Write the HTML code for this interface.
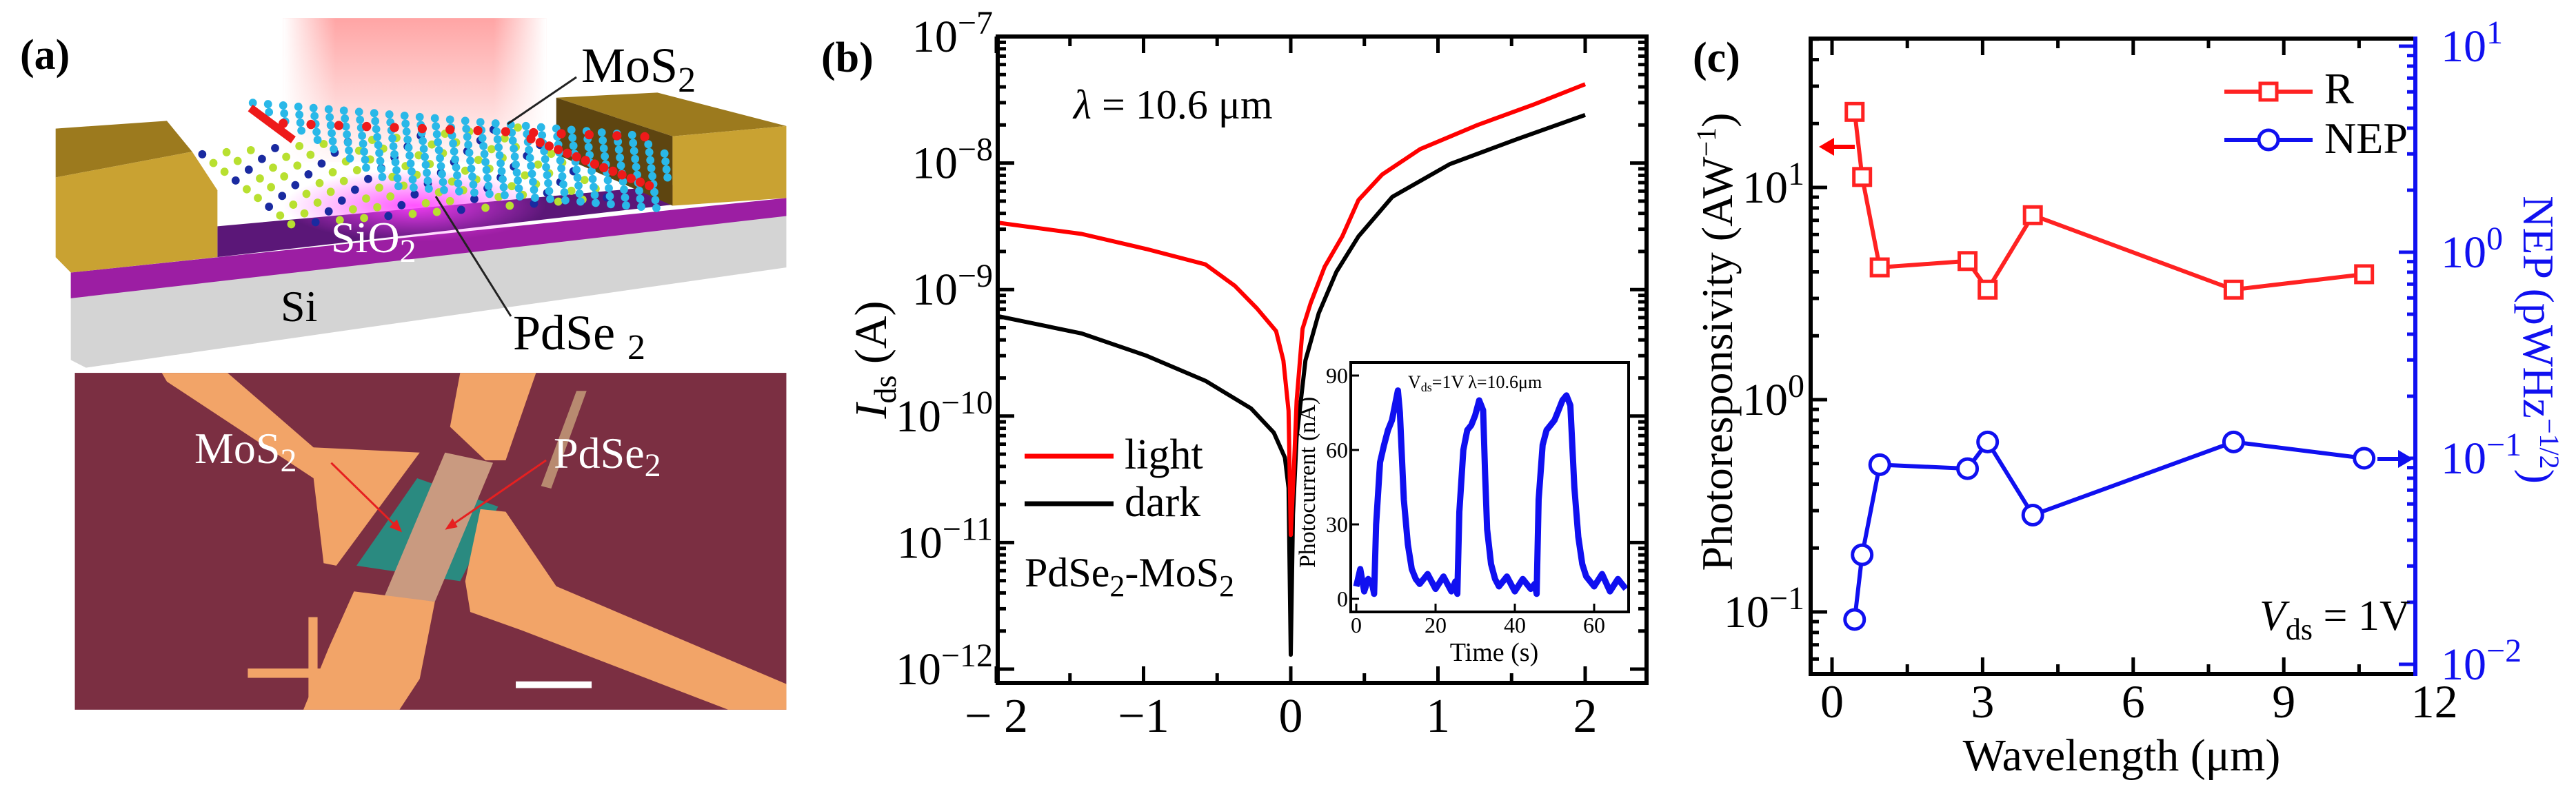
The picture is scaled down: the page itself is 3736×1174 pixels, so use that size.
<!DOCTYPE html>
<html><head><meta charset="utf-8"><style>
html,body{margin:0;padding:0;background:#fff;}
svg{display:block;}
svg text, svg tspan{font-family:"Liberation Serif","DejaVu Serif","Noto Serif CJK SC","Times New Roman",serif !important;}
</style></head><body>
<svg id="fig" xmlns="http://www.w3.org/2000/svg" width="3736" height="1174" viewBox="0 0 3736 1174">
<defs>
<linearGradient id="glow" x1="0" y1="0" x2="0" y2="1"><stop offset="0" stop-color="#ff9a9a" stop-opacity="0.9"/><stop offset="1" stop-color="#ff9a9a" stop-opacity="0.05"/></linearGradient>
<linearGradient id="glowH" x1="0" y1="0" x2="1" y2="0"><stop offset="0" stop-color="#fff" stop-opacity="1"/><stop offset="0.2" stop-color="#fff" stop-opacity="0"/><stop offset="0.8" stop-color="#fff" stop-opacity="0"/><stop offset="1" stop-color="#fff" stop-opacity="1"/></linearGradient>
<radialGradient id="mag" cx="0.5" cy="0.5" r="0.5"><stop offset="0" stop-color="#ff40ff" stop-opacity="0.9"/><stop offset="1" stop-color="#ff40ff" stop-opacity="0"/></radialGradient>
</defs>

<g id="panelA">
 <g transform="scale(0.7334,0.7463)">
  <rect x="560" y="35" width="520" height="280" fill="url(#glow)"/>
  <rect x="560" y="35" width="520" height="280" fill="url(#glowH)"/>
  <polygon points="140,530 1555,390 1555,520 170,715 140,700" fill="#d4d4d4"/>
  <polygon points="140,530 1555,385 1555,420 140,580" fill="#9c1ea3"/>
  <polygon points="430,440 1330,360 1330,398 430,500" fill="#5b1778"/>
  <ellipse cx="820" cy="400" rx="260" ry="70" fill="url(#mag)"/>
  <polygon points="110,250 330,235 380,295 110,345" fill="#9c7a1e"/>
  <polygon points="110,345 380,295 430,370 430,500 140,530 110,500" fill="#c9a232"/>
  <polygon points="1100,190 1300,180 1555,245 1330,265" fill="#9c7a1e"/>
  <polygon points="1100,190 1330,265 1330,400 1100,300" fill="#5e4510"/>
  <polygon points="1330,265 1555,245 1555,385 1330,400" fill="#c9a232"/>
  <g id="lattice"></g>
 </g>
 <text x="29" y="100" font-size="62" font-weight="bold">(a)</text>
 <text x="843" y="119" font-size="72">MoS<tspan dy="14" font-size="52">2</tspan></text>
 <text x="480" y="366" font-size="64" fill="#fff">SiO<tspan dy="14" font-size="48">2</tspan></text>
 <text x="407" y="466" font-size="64">Si</text>
 <text x="744" y="507" font-size="72">PdSe <tspan dy="14" font-size="52">2</tspan></text>
 <line x1="836" y1="112" x2="736" y2="180" stroke="#222" stroke-width="3"/>
 <line x1="741" y1="459" x2="632" y2="285" stroke="#222" stroke-width="3"/>
 <g transform="scale(0.7334,0.7463)">
  <rect x="148" y="725" width="1407" height="655" fill="#7b2f42"/>
  <polygon points="320,725 450,725 620,870 830,880 740,1000 665,1100 640,1095 620,930 330,742" fill="#f2a468"/>
  <polygon points="910,725 1060,725 1000,895 960,895 890,830" fill="#f2a468"/>
  <polygon points="1140,760 1160,760 1090,950 1070,945" fill="#b88a70"/>
  <polygon points="825,930 985,985 910,1130 705,1100" fill="#2a8a80"/>
  <polygon points="950,990 1000,995 1100,1140 1555,1330 1555,1380 1440,1380 1030,1225 930,1190 920,1130" fill="#f2a468"/>
  <polygon points="880,880 975,900 860,1170 760,1160" fill="#c99a80"/>
  <polygon points="700,1150 860,1170 830,1320 790,1380 600,1380 650,1260" fill="#f2a468"/>
  <rect x="490" y="1300" width="150" height="18" fill="#f2a468"/>
  <rect x="610" y="1200" width="18" height="160" fill="#f2a468"/>
  <rect x="1020" y="1325" width="150" height="13" fill="#fff"/>
  <line x1="655" y1="900" x2="785" y2="1025" stroke="#e62020" stroke-width="4"/>
  <polygon points="795,1035 770,1025 785,1010" fill="#e62020"/>
  <line x1="1080" y1="895" x2="895" y2="1020" stroke="#e62020" stroke-width="4"/>
  <polygon points="880,1030 895,1008 905,1025" fill="#e62020"/>
 </g>
 <text x="282" y="672" font-size="64" fill="#fff">MoS<tspan dy="12" font-size="48">2</tspan></text>
 <text x="803" y="679" font-size="64" fill="#fff">PdSe<tspan dy="12" font-size="48">2</tspan></text>
</g>

<g id="panelB">
 <text x="1191" y="104" font-size="62" font-weight="bold">(b)</text>
 <g id="bAxes"></g>
 <g id="bLines"></g>
 <rect x="1447" y="53" width="941" height="938" fill="none" stroke="#000" stroke-width="6"/>
 <text x="1557" y="172" font-size="60"><tspan font-style="italic">λ</tspan> = 10.6 μm</text>
 <text transform="translate(1285,522) rotate(-90)" text-anchor="middle" font-size="66"><tspan font-style="italic">I</tspan><tspan dy="14" font-size="46">ds</tspan><tspan dy="-14"> (A)</tspan></text>
 <line x1="1486" y1="662" x2="1615" y2="662" stroke="#f00" stroke-width="7"/>
 <text x="1631" y="680" font-size="62">light</text>
 <line x1="1486" y1="731" x2="1615" y2="731" stroke="#000" stroke-width="7"/>
 <text x="1631" y="749" font-size="62">dark</text>
 <text x="1486" y="851" font-size="60">PdSe<tspan dy="14" font-size="44">2</tspan><tspan dy="-14">-MoS</tspan><tspan dy="14" font-size="44">2</tspan></text>
 <g id="inset">
  <rect x="1959" y="526" width="403" height="362" fill="#fff"/>
  <g id="insetAxes"></g>
  <path id="insetLine" fill="none" stroke="#1010f0" stroke-width="9" stroke-linejoin="round"/>
  <rect x="1959" y="526" width="403" height="362" fill="none" stroke="#000" stroke-width="4"/>
  <text x="2042" y="563" font-size="26">V<tspan dy="5" font-size="18">ds</tspan><tspan dy="-5">=1V  λ=10.6μm</tspan></text>
  <text transform="translate(1907,700) rotate(-90)" text-anchor="middle" font-size="34">Photocurrent (nA)</text>
  <text x="2167" y="959" text-anchor="middle" font-size="38">Time (s)</text>
 </g>
</g>

<g id="panelC">
 <text x="2455" y="104" font-size="62" font-weight="bold">(c)</text>
 <g id="cAxes"></g>
 <g id="cLines"></g>
 <line x1="2626" y1="56" x2="3503" y2="56" stroke="#000" stroke-width="6"/>
 <line x1="2626" y1="978" x2="3503" y2="978" stroke="#000" stroke-width="6"/>
 <line x1="2626" y1="53" x2="2626" y2="981" stroke="#000" stroke-width="6"/>
 <line x1="3503" y1="53" x2="3503" y2="981" stroke="#1010f0" stroke-width="6"/>
 <line x1="3226" y1="133" x2="3354" y2="133" stroke="#f22" stroke-width="6"/>
 <rect x="3278" y="121" width="24" height="24" fill="#fff" stroke="#f22" stroke-width="5"/>
 <text x="3371" y="150" font-size="64">R</text>
 <line x1="3226" y1="203" x2="3354" y2="203" stroke="#1010f0" stroke-width="6"/>
 <circle cx="3290" cy="203" r="14" fill="#fff" stroke="#1010f0" stroke-width="5"/>
 <text x="3371" y="222" font-size="64">NEP</text>
 <text x="3277" y="914" font-size="62"><tspan font-style="italic">V</tspan><tspan dy="14" font-size="44">ds</tspan><tspan dy="-14"> = 1V</tspan></text>
 <text transform="translate(2512,496) rotate(-90)" text-anchor="middle" font-size="64">Photoresponsivity (AW<tspan dy="-24" font-size="40">−1</tspan><tspan dy="24">)</tspan></text>
 <text transform="translate(3660,493) rotate(90)" text-anchor="middle" font-size="64" fill="#1010f0">NEP (pWHz<tspan dy="-24" font-size="40">−1/2</tspan><tspan dy="24">)</tspan></text>
 <text x="3077" y="1118" text-anchor="middle" font-size="66">Wavelength (μm)</text>
 <line x1="2690" y1="213" x2="2655" y2="213" stroke="#f00" stroke-width="6"/>
 <polygon points="2638,213 2660,200 2660,226" fill="#f00"/>
 <line x1="3448" y1="666" x2="3485" y2="666" stroke="#1010f0" stroke-width="6"/>
 <polygon points="3500,666 3478,653 3478,679" fill="#1010f0"/>
</g>
</svg>
<script>
const lightV = [-2.0,-1.42,-0.98,-0.58,-0.38,-0.23,-0.10,-0.05,-0.015,0.0,0.023,0.04,0.08,0.135,0.23,0.35,0.46,0.62,0.88,1.27,1.65,2.0];
const lightI = [3.39e-9,2.75e-9,2.09e-9,1.58e-9,1.07e-9,7.1e-10,4.7e-10,2.75e-10,1.1e-10,1.15e-11,4.3e-11,1.32e-10,4.9e-10,7.8e-10,1.51e-9,2.63e-9,5.1e-9,8.1e-9,1.29e-8,2.0e-8,2.9e-8,4.2e-8];
const darkV = [-2.0,-1.42,-0.98,-0.58,-0.27,-0.115,-0.04,-0.015,0.0,0.015,0.04,0.10,0.19,0.31,0.46,0.69,1.08,1.54,2.0];
const darkI = [6.2e-10,4.5e-10,3.0e-10,1.9e-10,1.15e-10,7.4e-11,4.7e-11,2.7e-11,1.3e-12,1.66e-11,6.8e-11,2.75e-10,6.5e-10,1.38e-9,2.63e-9,5.4e-9,9.8e-9,1.55e-8,2.4e-8];
const bXTicks = [-2,-1,0,1,2];
const bXTickLabels = ["− 2","−1","0","1","2"];
const bYExps = [-7,-8,-9,-10,-11,-12];
const insetT = [0,1,2,3,4,4.5,5,6,7,8,9,10,10.5,11,12,13,14,15,16,18,20,22,24,25,25.5,26,27,28,29,30,31,32,32.5,33,34,35,36,38,40,42,44,45,45.5,46,47,48,49,50,51,52,53,54,55,56,57,58,60,62,64,66,68];
const insetP = [5,12,3,8,6,2,30,55,62,68,72,80,84,75,40,22,12,8,6,10,4,9,3,7,2,35,60,68,70,74,80,76,50,28,14,8,5,9,3,8,4,6,2,40,62,68,70,72,76,80,82,78,45,25,14,9,5,10,3,8,4];
const insetXTicks = [0,20,40,60];
const insetYTicks = [0,30,60,90];
const wavelengths = [0.45,0.6,0.95,2.7,3.1,4.0,8.0,10.6];
const responsivity = [22.7,11.2,4.2,4.5,3.3,7.4,3.3,3.9];
const nep = [0.0165,0.034,0.093,0.089,0.12,0.053,0.12,0.10];
const cXTicks = [0,3,6,9,12];
const cLeftExps = [1,0,-1];
const cRightExps = [1,0,-1,-2];

const NS="http://www.w3.org/2000/svg";
function mk(tag,attrs,parent){const e=document.createElementNS(NS,tag);for(const k in attrs)e.setAttribute(k,attrs[k]);parent.appendChild(e);return e;}
const L10=Math.log10;
const bx=v=>1872+v*213.5;
const by=i=>53+(-7-L10(i))*183.6;
const ix=t=>1967+t*5.75;
const iy=p=>869-p*3.6;
const cx=w=>2657+w*72.8;
const cyL=r=>272+(1-L10(r))*308;
const cyR=n=>366+(0-L10(n))*299;

const bA=document.getElementById('bAxes');
for(let d=-12;d<=-8;d++){
  for(let m=1;m<10;m++){
    const y=by(m*Math.pow(10,d)); if(y<53||y>991)continue;
    const len=m===1?24:12;
    const t1=mk('line',{x1:1447,y1:y,x2:1447+len,y2:y,stroke:'#000','stroke-width':5},bA);
    
    
    mk('line',{x1:2388,y1:y,x2:2388-len,y2:y,stroke:'#000','stroke-width':5},bA);
  }
}
bYExps.forEach(e=>{
  const y=by(Math.pow(10,e));
  const t=mk('text',{x:1440,y:y+22,'text-anchor':'end','font-size':66},bA);
  
  
  t.innerHTML='10<tspan dy="-26" font-size="48">−'+(-e)+'</tspan>';
});
for(let v=-2;v<=2.4;v+=0.5){
  const x=bx(v); const len=Math.abs(v-Math.round(v))<0.01?24:14;
  mk('line',{x1:x,y1:991,x2:x,y2:991-len,stroke:'#000','stroke-width':5},bA);
  mk('line',{x1:x,y1:53,x2:x,y2:53+len,stroke:'#000','stroke-width':5},bA);
}
bXTicks.forEach((v,k)=>{
  const t=mk('text',{x:bx(v),y:1062,'text-anchor':'middle','font-size':70},bA);
  
  
  t.textContent=bXTickLabels[k];
});
const bL=document.getElementById('bLines');
function pathFrom(xs,ys,fx,fy){return xs.map((x,k)=>(k?'L':'M')+fx(x).toFixed(1)+','+fy(ys[k]).toFixed(1)).join('');}
const dk=mk('path',{d:pathFrom(darkV,darkI,bx,by),fill:'none',stroke:'#000','stroke-width':6,'stroke-linejoin':'round'},bL);


const lt=mk('path',{d:pathFrom(lightV,lightI,bx,by),fill:'none',stroke:'#f00','stroke-width':6,'stroke-linejoin':'round'},bL);



const iA=document.getElementById('insetAxes');
insetXTicks.forEach(t=>{
  mk('line',{x1:ix(t),y1:888,x2:ix(t),y2:876,stroke:'#000','stroke-width':3},iA);
  const tx=mk('text',{x:ix(t),y:918,'text-anchor':'middle','font-size':32},iA);
  
  
  tx.textContent=t;
});
insetYTicks.forEach(p=>{
  mk('line',{x1:1959,y1:iy(p),x2:1971,y2:iy(p),stroke:'#000','stroke-width':3},iA);
  const tx=mk('text',{x:1955,y:iy(p)+11,'text-anchor':'end','font-size':32},iA);
  
  
  tx.textContent=p;
});
const il=document.getElementById('insetLine');
il.setAttribute('d',pathFrom(insetT,insetP,ix,iy));



const cA=document.getElementById('cAxes');
for(let d=-2;d<=1;d++){
  for(let m=1;m<10;m++){
    const v=m*Math.pow(10,d); const y=cyL(v); if(y<56||y>978)continue;
    const len=m===1?24:12;
    mk('line',{x1:2626,y1:y,x2:2626+len,y2:y,stroke:'#000','stroke-width':5},cA);
  }
}
for(let d=-3;d<=1;d++){
  for(let m=1;m<10;m++){
    const v=m*Math.pow(10,d); const y=cyR(v); if(y<56||y>978)continue;
    const len=m===1?24:12;
    mk('line',{x1:3503,y1:y,x2:3503-len,y2:y,stroke:'#1010f0','stroke-width':5},cA);
  }
}
cLeftExps.forEach(e=>{
  const t=mk('text',{x:2617,y:cyL(Math.pow(10,e))+22,'text-anchor':'end','font-size':66},cA);
  
  
  t.innerHTML='10<tspan dy="-26" font-size="48">'+(e<0?'−'+(-e):e)+'</tspan>';
});
cRightExps.forEach(e=>{
  const t=mk('text',{x:3540,y:cyR(Math.pow(10,e))+22,'font-size':66,fill:'#1010f0'},cA);
  
  
  t.innerHTML='10<tspan dy="-26" font-size="48">'+(e<0?'−'+(-e):e)+'</tspan>';
});
for(let w=0;w<=11.6;w+=1.5){
  const x=cx(w); const len=(w%3===0)?24:14;
  mk('line',{x1:x,y1:978,x2:x,y2:978-len,stroke:'#000','stroke-width':5},cA);
  mk('line',{x1:x,y1:56,x2:x,y2:56+len,stroke:'#000','stroke-width':5},cA);
}
cXTicks.forEach(w=>{
  const t=mk('text',{x:cx(w),y:1041,'text-anchor':'middle','font-size':68},cA);
  
  
  t.textContent=w;
});
const cL=document.getElementById('cLines');
const rl=mk('path',{d:pathFrom(wavelengths,responsivity,cx,cyL),fill:'none',stroke:'#f22','stroke-width':6},cL);


const nl=mk('path',{d:pathFrom(wavelengths,nep,cx,cyR),fill:'none',stroke:'#1010f0','stroke-width':6},cL);


wavelengths.forEach((w,k)=>{
  const s=mk('rect',{x:cx(w)-12,y:cyL(responsivity[k])-12,width:24,height:24,fill:'#fff',stroke:'#f22','stroke-width':5},cL);
  
  
  const c=mk('circle',{cx:cx(w),cy:cyR(nep[k]),r:14,fill:'#fff',stroke:'#1010f0','stroke-width':5},cL);
  
  
});

const lat=document.getElementById('lattice');
for(let r=0;r<9;r++){
  for(let c=0;c<14;c++){
    const x=400+c*48+r*22, y=300+r*17-c*4;
    mk('circle',{cx:x,cy:y,r:8,fill:(c+r)%3===0?'#1a2aa0':'#b8e030'},lat);
  }
}
for(let r=0;r<10;r++){
  for(let c=0;c<26;c++){
    const x=500+c*30+r*32, y=200+r*18+c*2.5;
    if(x>1320)continue;
    mk('circle',{cx:x,cy:y,r:8,fill:'#2ab8e8'},lat);
  }
}
for(let c=0;c<14;c++){
  mk('circle',{cx:560+c*55,cy:240+c*2,r:9,fill:'#ee1a1a'},lat);
  mk('circle',{cx:1050+c*18,cy:270+c*7,r:9,fill:'#ee1a1a'},lat);
}
mk('line',{x1:495,y1:210,x2:580,y2:272,stroke:'#ee1a1a','stroke-width':16},lat);
</script>
</body></html>
